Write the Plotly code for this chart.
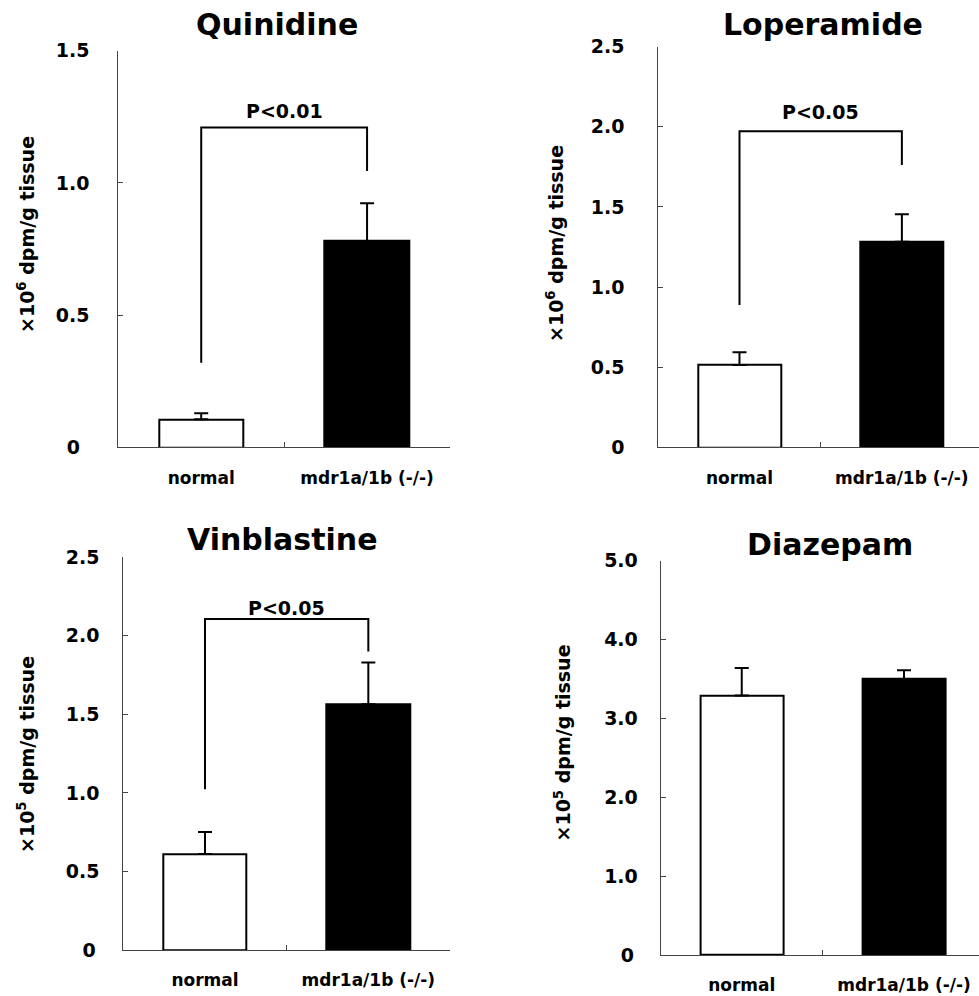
import plotly.graph_objects as go

W, H = 979, 996

categories = ["normal", "mdr1a/1b (-/-)"]
drug_names = ["Quinidine", "Loperamide", "Vinblastine", "Diazepam"]

quinidine_mean = [0.106, 0.780]
quinidine_err = [0.023, 0.143]
loperamide_mean = [0.514, 1.283]
loperamide_err = [0.079, 0.171]
vinblastine_mean = [0.611, 1.565]
vinblastine_err = [0.141, 0.265]
diazepam_mean = [3.29, 3.50]
diazepam_err = [0.35, 0.11]

y_labels = ["×10<sup>6</sup> dpm/g tissue", "×10<sup>6</sup> dpm/g tissue",
            "×10<sup>5</sup> dpm/g tissue", "×10<sup>5</sup> dpm/g tissue"]
y_tickvals = [[0, 0.5, 1.0, 1.5], [0, 0.5, 1.0, 1.5, 2.0, 2.5],
              [0, 0.5, 1.0, 1.5, 2.0, 2.5], [0, 1.0, 2.0, 3.0, 4.0, 5.0]]
y_ticktext = [["0\u2002", "0.5", "1.0", "1.5"],
              ["0", "0.5", "1.0", "1.5", "2.0", "2.5"],
              ["0\u2009", "0.5", "1.0", "1.5", "2.0", "2.5"],
              ["0\u2009", "1.0", "2.0", "3.0", "4.0", "5.0"]]
y_max = [1.5, 2.5, 2.5, 5.0]

# significance brackets: [level, left leg end, right leg end], label, label height
sig_brackets = [[1.21, 0.32, 1.045], [1.973, 0.888, 1.762], [2.108, 1.023, 1.90], None]
sig_labels = ["P<0.01", "P<0.05", "P<0.05", None]
sig_label_y = [1.272, 2.09, 2.18, None]

means = [quinidine_mean, loperamide_mean, vinblastine_mean, diazepam_mean]
errs = [quinidine_err, loperamide_err, vinblastine_err, diazepam_err]

# pixel layout of each panel: x0, x1, ytop, ybottom, x-range max
px_layout = [
    (118.3, 450.0, 50.7, 447.3, 1.5),
    (658.3, 979.0, 46.7, 447.3, 1.475),
    (123.3, 450.0, 557.3, 950.0, 1.5),
    (660.6, 979.0, 560.7, 955.0, 1.462),
]
y_standoff = [24, 29, 19, 18]
title_pos = [(276.7, 25), (823, 25), (282.5, 539), (830, 544)]
ylab_pos = [(26, 235), (555, 244), (26, 755), (562.5, 743)]

FONT = "DejaVu Sans"
fig = go.Figure()
annotations = []

for i in range(4):
    n = "" if i == 0 else str(i + 1)
    xa, ya = "x" + n, "y" + n
    fig.add_trace(go.Bar(
        x=categories, y=means[i], xaxis=xa, yaxis=ya, width=0.51,
        marker=dict(color=["white", "black"], line=dict(color="black", width=2)),
        error_y=dict(type="data", symmetric=False, array=errs[i],
                     arrayminus=[0, 0], color="black", thickness=2, width=7),
        showlegend=False, hoverinfo="skip"))
    if sig_brackets[i] is not None:
        lvl, le, re_ = sig_brackets[i]
        fig.add_trace(go.Scatter(
            x=[categories[0], categories[0], categories[1], categories[1]],
            y=[le, lvl, lvl, re_], xaxis=xa, yaxis=ya, mode="lines",
            line=dict(color="black", width=2), showlegend=False, hoverinfo="skip"))
        annotations.append(dict(
            x=0.5, y=sig_label_y[i], xref=xa, yref=ya, text=sig_labels[i],
            showarrow=False, xanchor="center", yanchor="middle",
            font=dict(family=FONT, size=19, color="black", weight="bold")))
    x0, x1, yt, yb, xr = px_layout[i]
    axis_common = dict(showline=True, linecolor="#444", linewidth=1,
                       ticks="inside", ticklen=5, tickcolor="#444", tickwidth=1,
                       showgrid=False, zeroline=False, automargin=False)
    fig.layout["xaxis" + n] = dict(
        domain=[x0 / W, x1 / W], anchor=ya, type="category",
        categoryorder="array", categoryarray=categories,
        range=[-0.5, xr], tickson="boundaries", ticklabelstandoff=15,
        tickfont=dict(family=FONT, size=17, color="black", weight="bold"),
        **axis_common)
    fig.layout["yaxis" + n] = dict(
        domain=[1 - yb / H, 1 - yt / H], anchor=xa, range=[0, y_max[i]],
        tickvals=y_tickvals[i], ticktext=y_ticktext[i],
        ticklabelstandoff=y_standoff[i],
        tickfont=dict(family=FONT, size=19, color="black", weight="bold"),
        **axis_common)
    tx, ty = title_pos[i]
    annotations.append(dict(
        x=tx / W, y=1 - ty / H, xref="paper", yref="paper", text=drug_names[i],
        showarrow=False, xanchor="center", yanchor="middle",
        font=dict(family=FONT, size=30, color="black", weight="bold")))
    lx, ly = ylab_pos[i]
    annotations.append(dict(
        x=lx / W, y=1 - ly / H, xref="paper", yref="paper", text=y_labels[i],
        showarrow=False, xanchor="center", yanchor="middle", textangle=-90,
        font=dict(family=FONT, size=19, color="black", weight="bold")))

fig.update_layout(
    width=W, height=H, margin=dict(l=0, r=0, t=0, b=0, autoexpand=False),
    paper_bgcolor="white", plot_bgcolor="white",
    annotations=annotations, bargap=0)

fig.write_html("out.html")
